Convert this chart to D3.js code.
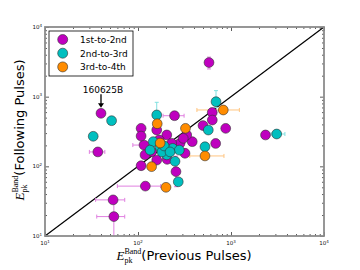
<!DOCTYPE html>
<html>
<head>
<meta charset="utf-8">
<script src="https://cdnjs.cloudflare.com/ajax/libs/d3/7.8.5/d3.min.js"></script>
<style>
  body { margin: 0; background: #fff; }
  svg { display: block; font-family: "DejaVu Sans", sans-serif; }
</style>
</head>
<body>
<svg id="chart"></svg>
<script>
// 1st-to-2nd pulses (magenta)
var firstX = [40, 37, 120, 54, 55, 108, 116, 108, 108, 159, 247, 204, 169, 283, 383, 334, 140, 119, 159, 206, 320, 256, 500, 629, 629, 877, 580, 2350, 684, 307, 230];
var firstY = [577, 161, 52, 33, 19, 102, 202, 351, 272, 332, 533, 282, 239, 214, 226, 282, 162, 146, 123, 126, 154, 84, 385, 593, 462, 351, 3090, 282, 213, 252, 214];
var firstXErr = [null, [30, 44], [60, 175], [35, 72], [36, 72], null, [88, 150], null, null, null, [186, 313], null, null, null, null, null, null, null, null, null, null, null, null, null, null, null, null, null, null, null, null];
var firstYErr = [null, null, null, null, [8, 30], null, null, null, null, null, null, null, null, null, null, null, null, null, null, null, null, [51, 140], null, null, null, null, [2500, 3700], null, null, null, null];

// 2nd-to-3rd pulses (cyan)
var secondX = [52, 33, 159, 690, 570, 3100, 525, 146, 236, 278, 204, 271, 173, 135, 181, 191, 221, 250];
var secondY = [452, 270, 546, 847, 332, 291, 191, 226, 181, 171, 146, 60, 189, 171, 161, 196, 161, 118];
var secondXErr = [null, null, null, null, null, [2700, 3800], null, null, null, null, null, null, null, null, null, null, null, null];
var secondYErr = [null, null, [420, 830], [700, 1220], null, null, null, null, null, null, null, [54, 66], null, null, null, null, null, null];

// 3rd-to-4th pulses (orange)
var thirdX = [161, 324, 826, 525, 140, 200, 173];
var thirdY = [409, 351, 644, 141, 99, 50, 216];
var thirdXErr = [null, null, [430, 1230], [360, 840], null, [185, 215], null];
var thirdYErr = [null, null, null, null, null, [45, 56], null];

var seriesNames = ["1st-to-2nd", "2nd-to-3rd", "3rd-to-4th"];
var seriesColors = ["#bf00bf", "#00bfbf", "#ff8c00"];
var errColors = ["#e080e0", "#80e0e0", "#ffc580"];

var majorTicks = [10, 100, 1000, 10000];
var tickExps = ["1", "2", "3", "4"];

var burstName = "160625B";
var burstX = 40, burstY = 577;

var W = 360, H = 270;
var margin = {top: 27, right: 36, bottom: 34, left: 45};
var width = W - margin.left - margin.right;
var height = H - margin.top - margin.bottom;

var svg = d3.select("#chart").attr("width", W).attr("height", H);
svg.append("rect").attr("width", W).attr("height", H).attr("fill", "#fff");

var g = svg.append("g")
    .attr("transform", "translate(" + margin.left + "," + margin.top + ")");

var x = d3.scaleLog().domain([10, 10000]).range([0, width]);
var y = d3.scaleLog().domain([10, 10000]).range([height, 0]);

g.append("clipPath").attr("id", "clip")
  .append("rect").attr("width", width).attr("height", height);

// minor ticks 2..9 per decade
var minorTicks = [];
majorTicks.slice(0, 3).forEach(function(d) {
    for (var m = 2; m <= 9; m++) minorTicks.push(d * m);
});

function tickAxis(axisFn, scale, vals, size, tr) {
    var a = g.append("g").attr("transform", tr)
        .call(axisFn(scale).tickValues(vals).tickSize(-size).tickFormat(""));
    a.select(".domain").remove();
    a.selectAll("line").attr("stroke", "#333").attr("stroke-width", 0.8);
}
tickAxis(d3.axisBottom, x, majorTicks, 4, "translate(0," + height + ")");
tickAxis(d3.axisBottom, x, minorTicks, 2, "translate(0," + height + ")");
tickAxis(d3.axisTop, x, majorTicks, 4, "translate(0,0)");
tickAxis(d3.axisTop, x, minorTicks, 2, "translate(0,0)");
tickAxis(d3.axisLeft, y, majorTicks, 4, "translate(0,0)");
tickAxis(d3.axisLeft, y, minorTicks, 2, "translate(0,0)");
tickAxis(d3.axisRight, y, majorTicks, 4, "translate(" + width + ",0)");
tickAxis(d3.axisRight, y, minorTicks, 2, "translate(" + width + ",0)");

// tick labels 10^n
majorTicks.forEach(function(v, i) {
    var t = g.append("text")
        .attr("x", x(v)).attr("y", height + 9)
        .attr("text-anchor", "middle")
        .style("font-size", "5.5px").attr("fill", "#111");
    t.append("tspan").text("10");
    t.append("tspan").attr("dy", -2.5).style("font-size", "4px").text(tickExps[i]);

    var t2 = g.append("text")
        .attr("x", -3).attr("y", y(v) + 2)
        .attr("text-anchor", "end")
        .style("font-size", "5.5px").attr("fill", "#111");
    t2.append("tspan").text("10");
    t2.append("tspan").attr("dy", -2.5).style("font-size", "4px").text(tickExps[i]);
});

// y = x line
g.append("path")
    .datum([10, 10000])
    .attr("d", d3.line().x(function(d) { return x(d); }).y(function(d) { return y(d); }))
    .attr("stroke", "#000").attr("stroke-width", 1.2).attr("fill", "none");

var series = [
    {xs: firstX, ys: firstY, xe: firstXErr, ye: firstYErr},
    {xs: secondX, ys: secondY, xe: secondXErr, ye: secondYErr},
    {xs: thirdX, ys: thirdY, xe: thirdXErr, ye: thirdYErr}
];

var errG = g.append("g").attr("clip-path", "url(#clip)");
var cap = 2;
series.forEach(function(s, k) {
    s.xs.forEach(function(xv, i) {
        var yv = s.ys[i];
        if (s.xe[i]) {
            var e = s.xe[i], py = y(yv);
            errG.append("line").attr("x1", x(e[0])).attr("x2", x(e[1]))
                .attr("y1", py).attr("y2", py);
            [e[0], e[1]].forEach(function(v) {
                errG.append("line").attr("x1", x(v)).attr("x2", x(v))
                    .attr("y1", py - cap).attr("y2", py + cap);
            });
        }
        if (s.ye[i]) {
            var f = s.ye[i], px = x(xv);
            errG.append("line").attr("x1", px).attr("x2", px)
                .attr("y1", y(f[0])).attr("y2", y(f[1]));
            [f[0], f[1]].forEach(function(v) {
                errG.append("line").attr("x1", px - cap).attr("x2", px + cap)
                    .attr("y1", y(v)).attr("y2", y(v));
            });
        }
    });
    errG.selectAll("line:not([stroke])")
        .attr("stroke", errColors[k]).attr("stroke-width", 1);
});

series.forEach(function(s, k) {
    g.append("g").selectAll("circle")
        .data(s.xs.map(function(d, i) { return [d, s.ys[i]]; }))
        .enter().append("circle")
        .attr("cx", function(d) { return x(d[0]); })
        .attr("cy", function(d) { return y(d[1]); })
        .attr("r", 4.9)
        .attr("fill", seriesColors[k])
        .attr("stroke", "#333").attr("stroke-width", 0.6);
});

// frame
g.append("rect").attr("width", width).attr("height", height)
    .attr("fill", "none").attr("stroke", "#8c8c8c").attr("stroke-width", 1.8);

// annotation for 160625B
var ax = x(burstX), ay = y(burstY);
g.append("line").attr("x1", ax).attr("x2", ax)
    .attr("y1", ay - 19).attr("y2", ay - 9)
    .attr("stroke", "#000").attr("stroke-width", 1.3);
g.append("path")
    .attr("d", "M" + (ax - 3) + "," + (ay - 10) + "L" + (ax + 3) + "," + (ay - 10) + "L" + ax + "," + (ay - 5.5) + "Z")
    .attr("fill", "#000");
g.append("text").attr("x", ax + 2).attr("y", ay - 20)
    .attr("text-anchor", "middle").style("font-size", "9px")
    .text(burstName);

// legend
var leg = svg.append("g").attr("transform", "translate(49,31)");
leg.append("rect").attr("width", 84).attr("height", 45)
    .attr("fill", "#fff").attr("stroke", "#000").attr("stroke-width", 0.8);
seriesNames.forEach(function(name, i) {
    var ly = 8.5 + i * 13.7;
    leg.append("circle").attr("cx", 13.7).attr("cy", ly).attr("r", 5)
        .attr("fill", seriesColors[i]).attr("stroke", "#333").attr("stroke-width", 0.6);
    leg.append("text").attr("x", 31).attr("y", ly + 3.3)
        .style("font-size", "9px").text(name);
});

// axis labels with E_pk^Band
function epkLabel(parent, rest) {
    var t = parent.append("text").attr("x", 0).attr("y", 0).attr("fill", "#000");
    t.append("tspan").style("font-family", "'Liberation Serif', serif")
        .style("font-style", "italic").style("font-size", "13px").text("E");
    var pk = t.append("tspan").style("font-family", "'Liberation Serif', serif")
        .style("font-size", "8px").attr("dy", 3).text("pk");
    var pkW = pk.node().getComputedTextLength();
    t.append("tspan").style("font-family", "'Liberation Serif', serif")
        .style("font-size", "8px").attr("dx", -pkW).attr("dy", -9).text("Band");
    t.append("tspan").style("font-size", "13px").attr("dy", 6).text(rest);
    var w = t.node().getBBox().width;
    t.attr("x", -w / 2);
}
epkLabel(svg.append("g").attr("transform", "translate(" + (margin.left + width / 2) + ",260)"), "(Previous Pulses)");
epkLabel(svg.append("g").attr("transform", "translate(24," + (margin.top + height / 2 - 2) + ") rotate(-90)"), "(Following Pulses)");
</script>
</body>
</html>
